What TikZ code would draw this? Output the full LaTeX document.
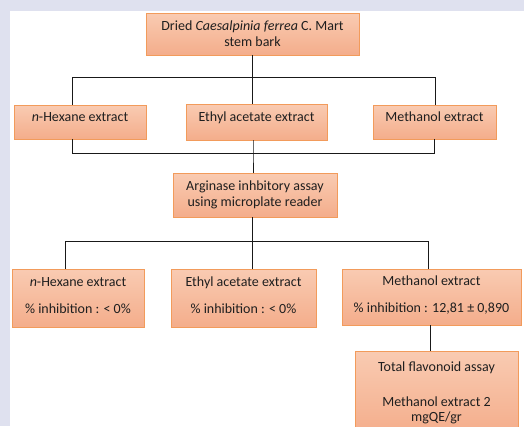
\documentclass[tikz,border=0pt]{standalone}
\usepackage{fontspec}
\setmainfont{Carlito}
\usepackage{tikz}
\usetikzlibrary{positioning}
\definecolor{boxtop}{HTML}{F9CBB2}
\definecolor{boxbot}{HTML}{F4AD8B}
\definecolor{boxline}{HTML}{F29B5B}
\definecolor{backlav}{HTML}{DFE1EF}

\begin{document}
\begin{tikzpicture}[x=1pt, y=-1pt,
	box/.style={draw=boxline, line width=0.9pt, top color=boxtop, bottom color=boxbot,
		inner sep=0pt, align=center, text=black!88, font=\fontsize{14}{16}\selectfont},
	extract/.style={box, minimum height=34pt, text height=9pt, text depth=10pt},
	result/.style={box, minimum height=58pt, text height=37pt, text depth=7pt},
	link/.style={draw=black!90, line width=0.9pt}]
\useasboundingbox (0,0) rectangle (524,426);
\fill[backlav] (0,0) rectangle (524,426);
\fill[white] (10,11) rectangle (524,426);

% plant material and extracts
\node[box, minimum width=213pt, minimum height=42pt] (bark) at (252.5,34) {Dried \textit{Caesalpinia ferrea} C. Mart\\stem bark};
\node[extract, minimum width=132pt] (hexA) at (80,122) {\textit{n}-Hexane extract};
\node[extract, minimum width=141pt, minimum height=36pt] (ethA) at (256.5,122) {Ethyl acetate extract};
\node[extract, minimum width=123pt] (metA) at (434.5,122) {Methanol extract};

% assay
\node[box, minimum width=164pt, minimum height=44pt] (assay) at (255,195) {Arginase inhbitory assay\\using microplate reader};

% results
\node[result, minimum width=132pt] (hexB) at (78,298) {\textit{n}-Hexane extract\\[11pt]\% inhibition : < 0\%};
\node[result, minimum width=145pt] (ethB) at (243.5,298) {Ethyl acetate extract\\[11pt]\% inhibition : < 0\%};
\node[result, minimum width=179pt, minimum height=56pt] (metB) at (431.5,297) {Methanol extract\\[11pt]\% inhibition : 12,81 ± 0,890};
\node[box, minimum width=163pt, minimum height=84pt] (flav) at (436.5,393) {Total flavonoid assay\\[19pt]Methanol extract 2\\[-1pt]mgQE/gr};

\coordinate (splitA) at (252.5,77);
\coordinate (jHexA) at (72,77);
\coordinate (jMetA) at (435,77);
\coordinate (joinB) at (253,153);
\coordinate (jHexB) at (72,153);
\coordinate (jMetB) at (434,153);
\coordinate (splitC) at (252.5,241);
\coordinate (jHexC) at (65,241);
\coordinate (jMetC) at (428,241);
\coordinate (jFlav) at (430,340);

\draw[link]
	(bark.south) -- (splitA)
	(jHexA) -- (jMetA)
	(jHexA) -- (jHexA |- hexA.north)
	(splitA) -- (splitA |- ethA.north)
	(jMetA) -- (jMetA |- metA.north)
	(hexA.south -| jHexB) -- (jHexB) -- (jMetB) -- (metA.south -| jMetB)
	(ethA.south -| joinB) -- (joinB) -- (joinB |- assay.north)
	(assay.south -| splitC) -- (splitC)
	(jHexC) -- (jMetC)
	(jHexC) -- (jHexC |- hexB.north)
	(splitC) -- (splitC |- ethB.north)
	(jMetC) -- (jMetC |- metB.north)
	(metB.south -| jFlav) -- (flav.north -| jFlav)
;
\end{tikzpicture}
\end{document}
